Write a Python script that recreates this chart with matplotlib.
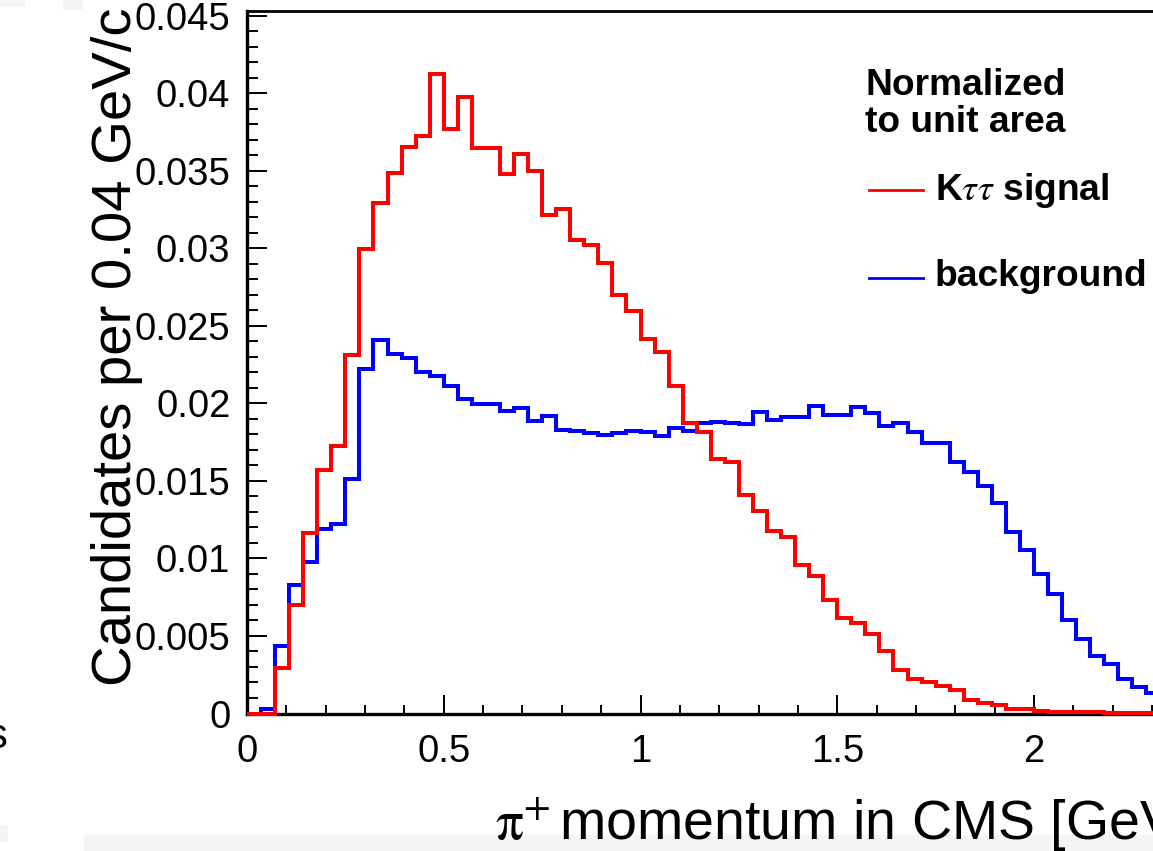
import numpy as np
import matplotlib
matplotlib.use('Agg')
import matplotlib.pyplot as plt
from matplotlib.ticker import MultipleLocator, FuncFormatter
from matplotlib.lines import Line2D
from matplotlib.patches import Rectangle

plt.rcParams['font.family'] = ['Liberation Sans', 'DejaVu Sans']
plt.rcParams['mathtext.fontset'] = 'stix'

# histogram contents, bins of 2.5/70 GeV/c starting at 0
bin_width = 2.5 / 70
signal = [0.0, 0.0, 0.00294, 0.00697, 0.01163, 0.01567, 0.01728, 0.02312,
          0.02994, 0.03292, 0.03488, 0.03653, 0.03722, 0.04125, 0.03767, 0.03977,
          0.03645, 0.03645, 0.03482, 0.03606, 0.03499, 0.03215, 0.03256, 0.03054,
          0.03022, 0.02908, 0.02700, 0.02597, 0.02417, 0.02333, 0.02114, 0.01874,
          0.01818, 0.01642, 0.01620, 0.01410, 0.01307, 0.01176, 0.01135, 0.00959,
          0.00884, 0.00730, 0.00618, 0.00586, 0.00515, 0.00404, 0.00283, 0.00225,
          0.00204, 0.00178, 0.00150, 0.00084, 0.00069, 0.00052, 0.00032, 0.00032,
          0.00015, 0.00010, 0.00010, 0.00008, 0.00008, 0.00006, 0.00005, 0.00005,
          0.00004]
background = [0.0, 0.0003, 0.00433, 0.00826, 0.00979, 0.01191, 0.01223, 0.01513,
              0.02222, 0.02410, 0.02318, 0.02290, 0.02200, 0.02178, 0.02110, 0.02028,
              0.01994, 0.01994, 0.01951, 0.01970, 0.01889, 0.01917, 0.01831, 0.01824,
              0.01807, 0.01797, 0.01809, 0.01822, 0.01818, 0.01792, 0.01840, 0.01822,
              0.01874, 0.01878, 0.01872, 0.01870, 0.01947, 0.01895, 0.01910, 0.01910,
              0.01981, 0.01925, 0.01927, 0.01975, 0.01938, 0.01852, 0.01872, 0.01818,
              0.01745, 0.01745, 0.01621, 0.01556, 0.01466, 0.01357, 0.01170, 0.01056,
              0.00897, 0.00773, 0.00601, 0.00483, 0.00372, 0.00316, 0.00225, 0.00172,
              0.00133]

W, H = 1153, 851
fig = plt.figure(figsize=(W / 100, H / 100), dpi=100, facecolor='white')

def fx(px):
    return px / W

def fy(py):
    return (H - py) / H

# axes extends past the right edge (the reference is cropped there)
ax = fig.add_axes([fx(247), fy(713.5), 983.75 / W, (713.5 - 11) / H])
edges = np.arange(len(signal) + 1) * bin_width
ax.stairs(background, edges, color='#0000ff', lw=2.9, zorder=3, clip_on=False)
ax.stairs(signal, edges, color='#ff0000', lw=2.9, zorder=4, clip_on=False)

ax.set_xlim(0, 2.5)
ax.set_ylim(0, 0.0453)

for s in ['top', 'right']:
    ax.spines[s].set_linewidth(2.0)
for s in ['left', 'bottom']:
    ax.spines[s].set_linewidth(2.4)

ax.xaxis.set_major_locator(MultipleLocator(0.5))
ax.xaxis.set_minor_locator(MultipleLocator(0.1))
ax.yaxis.set_major_locator(MultipleLocator(0.005))
ax.yaxis.set_minor_locator(MultipleLocator(0.001))
fmt = FuncFormatter(lambda v, p: '%g' % round(v, 6))
ax.xaxis.set_major_formatter(fmt)
ax.yaxis.set_major_formatter(fmt)

ax.tick_params(which='both', direction='in', top=False, right=False, width=1.4,
               labelsize=27.5)
ax.tick_params(axis='x', which='major', length=13.7, pad=15)
ax.tick_params(axis='x', which='minor', length=6.5)
ax.tick_params(axis='y', which='major', length=14.4, pad=12)
ax.tick_params(axis='y', which='minor', length=7.7)

# axis titles
fig.text(fx(131), fy(346.5), 'Candidates per 0.04 GeV/c', rotation=90,
         rotation_mode='anchor', ha='center', va='baseline', fontsize=40.5)
fig.text(fx(495), fy(840), r'$\mathrm{\pi}^{+}\,$momentum in CMS [GeV/c]', ha='left',
         va='baseline', fontsize=40)

# legend
lfs = 26.7
fig.text(fx(865), fy(95), 'Normalized', fontsize=lfs, fontweight='bold', va='baseline')
fig.text(fx(865), fy(132), 'to unit area', fontsize=lfs, fontweight='bold', va='baseline')
fig.add_artist(Line2D([fx(869), fx(923)], [fy(190), fy(190)], color='#ff0000', lw=2))
fig.text(fx(935), fy(200), r'K$\tau\tau$ signal', fontsize=lfs, fontweight='bold',
         va='baseline')
fig.add_artist(Line2D([fx(869), fx(923)], [fy(278), fy(278)], color='#0000ff', lw=2))
fig.text(fx(935), fy(286), 'background', fontsize=lfs, fontweight='bold', va='baseline')

# leftovers of the screenshot crop
for x0, y0, x1, y1 in [(0, 0, 25, 7), (63, 0, 83, 10), (0, 825, 8, 842), (84, 835, 1153, 851)]:
    fig.add_artist(Rectangle((fx(x0), fy(y1)), fx(x1 - x0), (y1 - y0) / H,
                             transform=fig.transFigure, color='#f5f5f5', lw=0, zorder=0))
fig.text(fx(8), fy(748), 's', ha='right', va='baseline', fontsize=30)

fig.savefig('out.png', dpi=100, facecolor='white')
